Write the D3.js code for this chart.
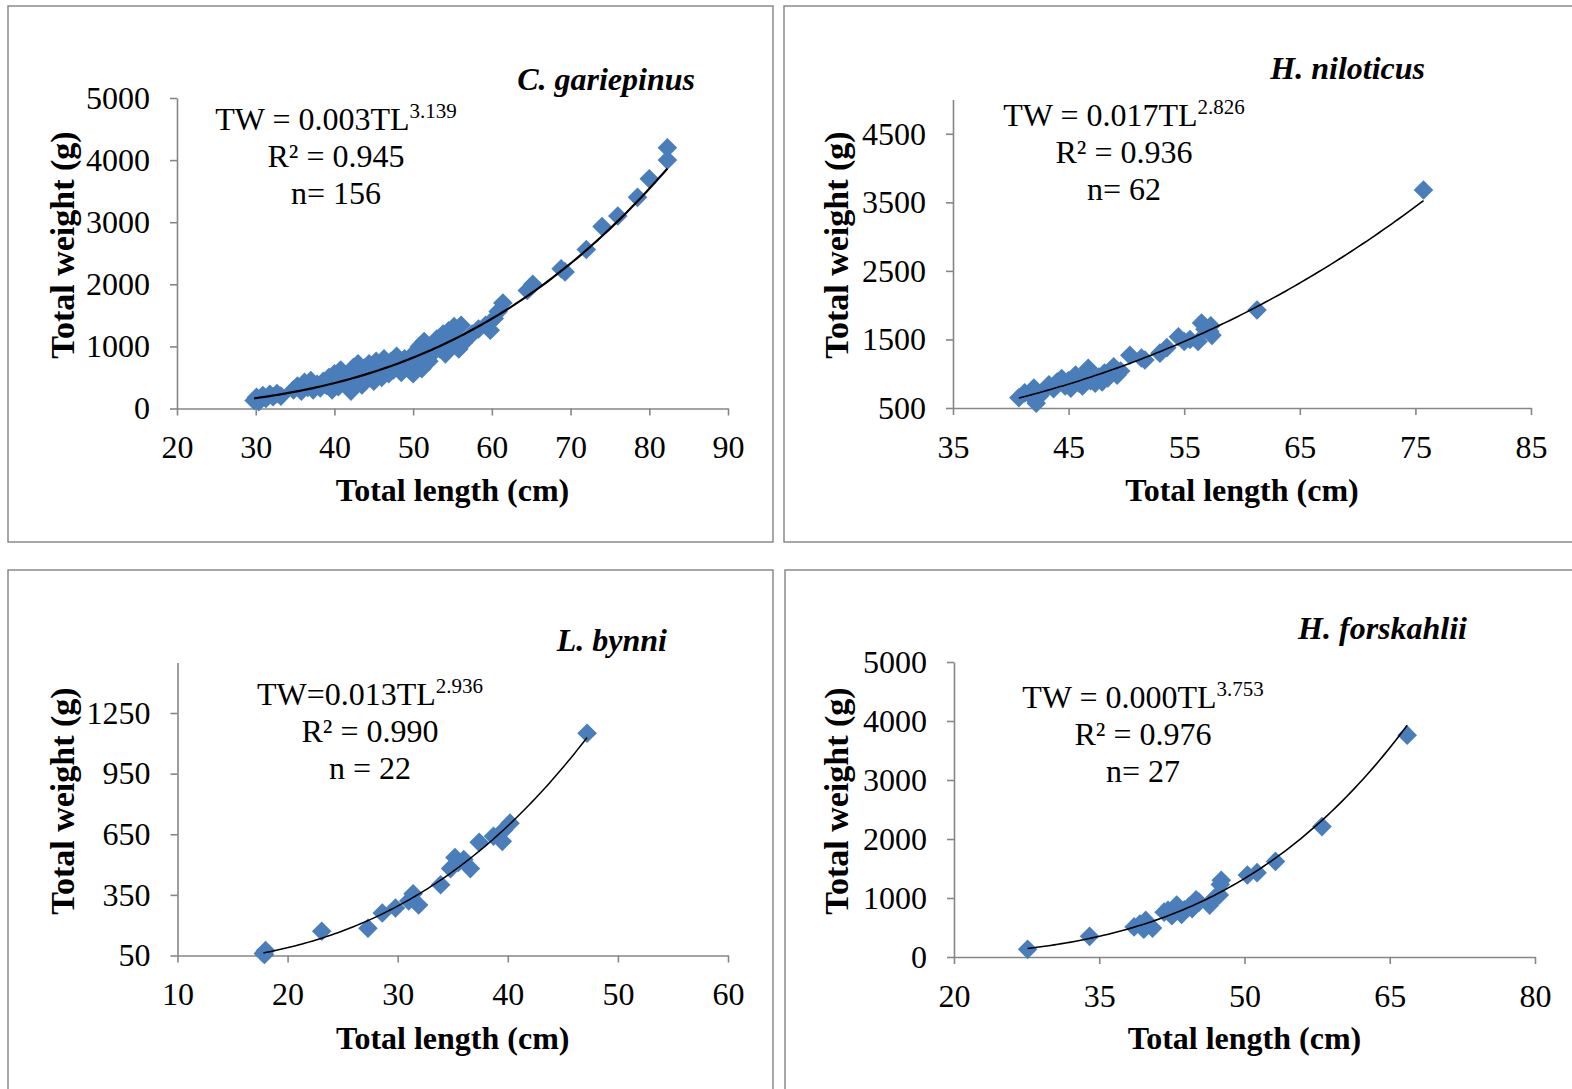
<!DOCTYPE html>
<html><head><meta charset="utf-8">
<script src="https://cdn.jsdelivr.net/npm/d3@7"></script>
<style>body{margin:0;background:#fff}svg{display:block}</style>
</head><body>
<svg id="c" width="1572" height="1089"></svg>
<script>
// ---------- DATA (TL cm, TW g) ----------
const cGariepinus = [[29.8,130],[30.1,180],[30.4,110],[30.9,210],[31.3,160],[31.8,230],[32.2,190],[32.7,240],[33.2,200],
[34.8,300],[35.3,360],[35.8,280],[36.2,420],[36.6,340],[37.0,450],[37.3,300],[37.8,390],[38.2,330],[38.6,440],[39.0,370],
[39.3,500],[39.7,300],[40.0,560],[40.2,420],[40.5,350],[40.8,620],[41.1,480],[41.4,380],[41.8,560],[42.1,280],[42.4,660],
[42.7,430],[43.0,720],[43.2,540],[43.5,380],[43.8,650],[44.1,480],[44.4,720],[44.7,560],[45.0,440],[45.3,760],[45.6,620],
[46.0,500],[46.3,800],[46.6,680],[46.9,560],[47.2,760],[47.5,620],[47.9,840],[48.2,700],[48.5,580],[48.9,800],[49.3,680],
[49.7,600],[50.0,560],[50.2,900],[50.5,760],[50.8,1000],[51.1,640],[51.4,1080],[51.7,880],[52.0,760],[52.3,1000],[52.7,920],
[53.0,1120],[53.4,960],[53.8,1200],[54.1,880],[54.5,1250],[54.8,1020],[55.2,1320],[55.5,1120],[55.8,960],[56.1,1340],
[56.4,1060],[57.5,1200],[58.3,1280],[59.2,1340],[59.8,1260],[60.3,1450],[60.8,1560],[61.4,1700],[64.5,1900],[65.2,2000],
[68.8,2250],[69.3,2200],[72.0,2560],[74.0,2930],[76.0,3100],[78.5,3400],[80.0,3700],[82.3,4000],[82.3,4200]];
const hNiloticus = [[40.7,650],[41.2,720],[41.6,700],[42.0,790],[42.2,570],[42.5,680],[42.9,760],[43.3,840],[43.7,780],
[44.0,880],[44.4,930],[44.7,820],[45.0,900],[45.2,790],[45.6,980],[45.9,860],[46.2,820],[46.5,1000],[46.7,1080],[46.9,900],
[47.3,860],[47.6,950],[47.9,880],[48.1,1010],[48.4,940],[48.7,1060],[48.9,1100],[49.2,980],[49.5,1040],[50.3,1270],
[51.3,1230],[51.6,1200],[52.9,1300],[53.5,1380],[54.5,1540],[55.0,1470],[55.5,1500],[56.2,1470],[56.5,1740],[56.8,1650],
[57.2,1620],[57.3,1700],[57.4,1560],[61.3,1930],[75.7,3680]];
const lBynni = [[17.8,60],[18.0,75],[17.9,55],[23.1,170],[27.3,185],[28.6,260],[29.8,285],[31.0,320],[31.4,355],[31.9,300],
[33.9,400],[34.8,480],[35.2,535],[35.5,510],[36.0,525],[36.6,480],[37.4,610],[38.7,640],[39.5,615],[39.6,670],[40.2,705],[47.2,1150]];
const hForskahlii = [[27.6,130],[34.0,350],[38.6,510],[39.2,560],[39.6,470],[39.8,620],[40.5,490],[41.7,760],[42.1,790],
[42.5,700],[43.0,880],[43.5,720],[43.8,800],[44.3,860],[44.6,820],[45.0,970],[45.3,930],[46.4,880],[46.9,1000],[47.4,1050],
[47.6,1300],[47.5,1230],[50.3,1390],[51.3,1430],[53.2,1620],[58.0,2210],[66.8,3760]];

const speciesNames = ["C. gariepinus","H. niloticus","L. bynni","H. forskahlii"];
const eqBase = ["TW = 0.003TL","TW = 0.017TL","TW=0.013TL","TW = 0.000TL"];
const eqExp = ["3.139","2.826","2.936","3.753"];
const r2Labels = ["R² = 0.945","R² = 0.936","R² = 0.990","R² = 0.976"];
const nLabels = ["n= 156","n= 62","n = 22","n= 27"];
const xTicks = [[20,30,40,50,60,70,80,90],[35,45,55,65,75,85],[10,20,30,40,50,60],[20,35,50,65,80]];
const yTicks = [[0,1000,2000,3000,4000,5000],[500,1500,2500,3500,4500],[50,350,650,950,1250],[0,1000,2000,3000,4000,5000]];
const xDomains = [[20,90],[35,85],[10,60],[20,80]];
const yDomains = [[0,5000],[500,5000],[50,1500],[0,5000]];
const xTitle = "Total length (cm)";
const yTitle = "Total weight (g)";

// ---------- LAYOUT ----------
const FONT = "'Liberation Serif','Times New Roman',serif";
const layout = [
  {data:cGariepinus, box:[8,6,765,536], xr:[177,728], yr:[408.5,98], titleX:695, titleY:90, eqX:336, eqY:130, yTX:62, yTY:245, xTY:501, lw:2.2},
  {data:hNiloticus, box:[784,6,800,536], xr:[953,1531], yr:[408,99.5], titleX:1425, titleY:79, eqX:1124, eqY:126, yTX:836, yTY:245, xTY:501, lw:1.6},
  {data:lBynni, box:[8,570,765,540], xr:[177.5,728], yr:[955.5,662.5], titleX:667, titleY:651, eqX:370, eqY:705, yTX:62, yTY:801, xTY:1049, lw:1.5},
  {data:hForskahlii, box:[785,570,800,540], xr:[954,1535], yr:[957,662], titleX:1467, titleY:639, eqX:1143, eqY:708, yTX:836, yTY:801, xTY:1049, lw:1.6}
];

const svg = d3.select("#c");
svg.append("rect").attr("width",1572).attr("height",1089).attr("fill","#fff");

const diamond = "M0,-9.8L9.8,0L0,9.8L-9.8,0Z";

layout.forEach((p,i)=>{
  const g = svg.append("g");
  g.append("rect").attr("x",p.box[0]).attr("y",p.box[1]).attr("width",p.box[2]).attr("height",p.box[3])
    .attr("fill","none").attr("stroke","#8a8a8a").attr("stroke-width",1.5);

  const x = d3.scaleLinear().domain(xDomains[i]).range(p.xr);
  const y = d3.scaleLinear().domain(yDomains[i]).range(p.yr);

  const ax = g.append("g").attr("transform",`translate(0,${p.yr[0]})`)
    .call(d3.axisBottom(x).tickValues(xTicks[i]).tickSize(7).tickSizeOuter(0).tickPadding(20).tickFormat(d3.format("d")));
  const ay = g.append("g").attr("transform",`translate(${p.xr[0]},0)`)
    .call(d3.axisLeft(y).tickValues(yTicks[i]).tickSize(7).tickSizeOuter(0).tickPadding(20).tickFormat(d3.format("d")));
  [ax,ay].forEach(a=>{
    a.selectAll("path,line").attr("stroke","#868686").attr("stroke-width",1.6);
    a.selectAll("text").attr("font-family",FONT).attr("font-size",32).attr("fill","#000");
  });

  // points
  g.append("g").selectAll("path").data(p.data).join("path")
    .attr("d",diamond).attr("fill","#4a7ebb")
    .attr("transform",d=>`translate(${x(d[0])},${y(d[1])})`);

  // power trendline (least squares on log-log, as in Excel)
  const lx = p.data.map(d=>Math.log(d[0])), ly = p.data.map(d=>Math.log(d[1]));
  const mx = d3.mean(lx), my = d3.mean(ly);
  const b = d3.sum(lx.map((v,k)=>(v-mx)*(ly[k]-my))) / d3.sum(lx.map(v=>(v-mx)*(v-mx)));
  const a = Math.exp(my - b*mx);
  const [x0,x1] = d3.extent(p.data,d=>d[0]);
  const curve = d3.range(0,101).map(k=>{const t=x0+(x1-x0)*k/100; return [t, a*Math.pow(t,b)];});
  g.append("path").attr("d",d3.line().x(d=>x(d[0])).y(d=>y(d[1]))(curve))
    .attr("fill","none").attr("stroke","#000").attr("stroke-width",p.lw);

  // species title
  g.append("text").attr("x",p.titleX).attr("y",p.titleY).attr("text-anchor","end")
    .attr("font-family",FONT).attr("font-size",32).attr("font-weight","bold").attr("font-style","italic")
    .text(speciesNames[i]);

  // equation block
  const eq = g.append("text").attr("x",p.eqX).attr("y",p.eqY).attr("text-anchor","middle")
    .attr("font-family",FONT).attr("font-size",32);
  eq.append("tspan").text(eqBase[i]);
  eq.append("tspan").attr("font-size",21).attr("dy",-12).text(eqExp[i]);
  g.append("text").attr("x",p.eqX).attr("y",p.eqY+37).attr("text-anchor","middle")
    .attr("font-family",FONT).attr("font-size",32).text(r2Labels[i]);
  g.append("text").attr("x",p.eqX).attr("y",p.eqY+74).attr("text-anchor","middle")
    .attr("font-family",FONT).attr("font-size",32).text(nLabels[i]);

  // axis titles
  g.append("text").attr("x",(p.xr[0]+p.xr[1])/2).attr("y",p.xTY).attr("text-anchor","middle")
    .attr("font-family",FONT).attr("font-size",32).attr("font-weight","bold").text(xTitle);
  g.append("text").attr("transform",`translate(${p.yTX},${p.yTY}) rotate(-90)`).attr("text-anchor","middle")
    .attr("dy","0.35em").attr("font-family",FONT).attr("font-size",34).attr("font-weight","bold").text(yTitle);
});
</script>
</body></html>
